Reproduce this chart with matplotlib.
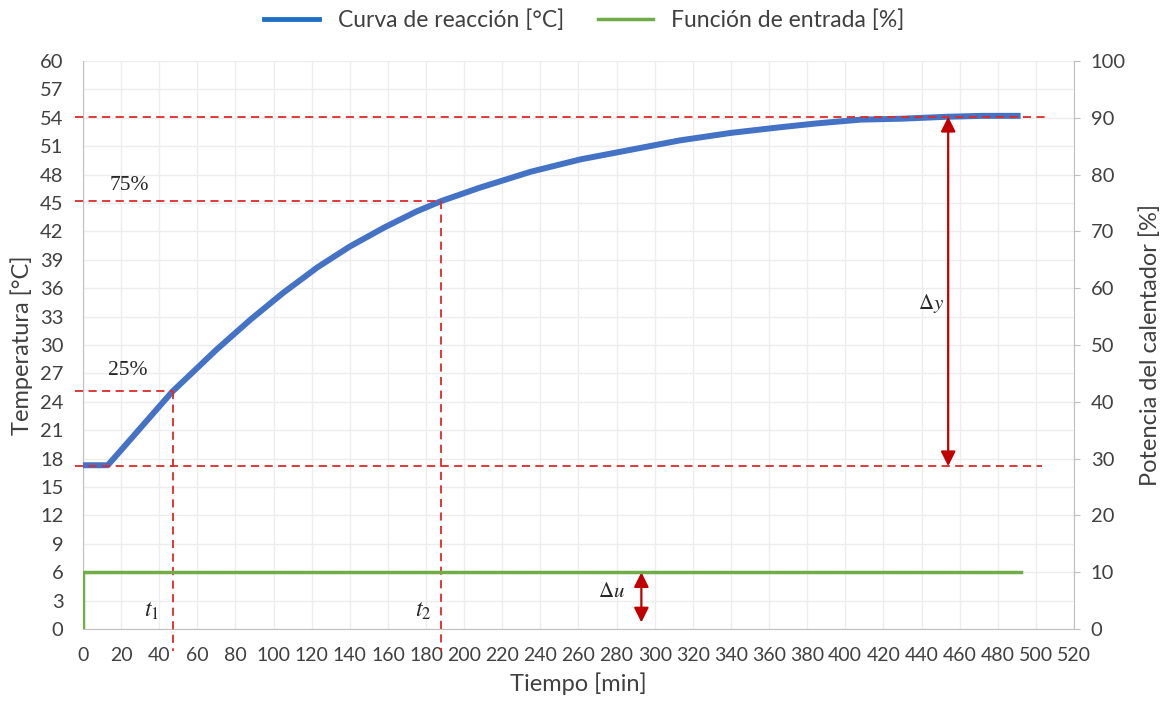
import matplotlib
matplotlib.use("Agg")
import matplotlib.pyplot as plt
from matplotlib.lines import Line2D

# ---- data ----
time_min = [0, 13, 20, 30, 40, 47, 58, 70, 88, 105, 123, 140, 158, 175, 188,
            208, 235, 261, 287, 313, 340, 366, 385, 408, 430, 453, 472, 492]
temp_c = [17.3, 17.3, 18.9, 21.2, 23.5, 25.1, 27.2, 29.5, 32.7, 35.5, 38.2,
          40.4, 42.4, 44.1, 45.2, 46.6, 48.3, 49.6, 50.6, 51.6, 52.4, 53.0,
          53.4, 53.8, 53.9, 54.1, 54.2, 54.2]

input_t = [0, 0, 492]
input_pct = [0, 10, 10]

y_final = 54.1
y_initial = 17.2
y_25 = 25.1
y_75 = 45.2
t1 = 47.2
t2 = 187.8
t_dy = 454
t_du = 293

x_ticks = list(range(0, 521, 20))
y_ticks = list(range(0, 61, 3))
y2_ticks = list(range(0, 101, 10))

# ---- style ----
plt.rcParams['font.family'] = ['Lato', 'DejaVu Sans']
plt.rcParams['mathtext.fontset'] = 'stix'

blue = '#4472C4'
green = '#70AD47'
red = '#E02828'
dark_red = '#C00000'
gray = '#BFBFBF'
txt = '#404040'

fig = plt.figure(figsize=(11.69, 7.06), dpi=100)
ax = fig.add_axes([0.071, 0.109, 0.8477, 0.8047])
ax2 = ax.twinx()

ax.set_xlim(0, 520)
ax.set_ylim(0, 60)
ax2.set_ylim(0, 100)
ax.set_xticks(x_ticks)
ax.set_yticks(y_ticks)
ax2.set_yticks(y2_ticks)

ax.grid(True, color='#EDEDED', lw=1.0)
ax.set_axisbelow(True)

for a in (ax, ax2):
    for s in a.spines.values():
        s.set_visible(False)
ax.spines['left'].set_visible(True)
ax.spines['left'].set_color(gray)
ax.spines['bottom'].set_visible(True)
ax.spines['bottom'].set_color(gray)
ax2.spines['right'].set_visible(True)
ax2.spines['right'].set_color(gray)

ax.tick_params(axis='y', length=0, labelsize=14.5, labelcolor=txt, pad=14)
ax.tick_params(axis='x', length=0, labelsize=14, labelcolor=txt, pad=13)
ax2.tick_params(axis='y', length=4, color=gray, labelsize=14.5, labelcolor=txt, pad=8)

ax.set_xlabel('Tiempo [min]', fontsize=17, color=txt, labelpad=6)
ax.set_ylabel('Temperatura [°C]', fontsize=17, color=txt, labelpad=5)
ax2.set_ylabel('Potencia del calentador [%]', fontsize=17, color=txt, labelpad=10)

# red dashed guide lines
dash = dict(color=red, lw=1.3, ls=(0, (4.5, 3)), clip_on=False, zorder=4)
ax.plot([-4, 507], [y_final, y_final], **dash)
ax.plot([-4, 503], [y_initial, y_initial], **dash)
ax.plot([-4, t2], [y_75, y_75], **dash)
ax.plot([-4, t1], [y_25, y_25], **dash)
ax.plot([t1, t1], [y_25, -2.3], **dash)
ax.plot([t2, t2], [y_75, -2.3], **dash)

# series
ax.plot(time_min, temp_c, color=blue, lw=4.3, solid_joinstyle='round',
        solid_capstyle='butt', zorder=3)
ax2.plot(input_t, input_pct, color=green, lw=2.5, zorder=3)

# arrows
arrow = dict(arrowstyle='<|-|>', color=dark_red, lw=1.6, mutation_scale=22,
             shrinkA=0, shrinkB=0)
ax.annotate('', xy=(t_dy, y_final), xytext=(t_dy, y_initial), arrowprops=arrow, zorder=5)
ax.annotate('', xy=(t_du, 6), xytext=(t_du, 0.7), arrowprops=arrow, zorder=5)

# annotation texts
serif = dict(fontfamily='Liberation Serif', color='#262626')
ax.text(14, 46.4, '75%', fontsize=15.5, **serif)
ax.text(13, 26.8, '25%', fontsize=15.5, **serif)
ax.text(438, 34.4, r'$\Delta y$', fontsize=15, va='center', **serif)
ax.text(270, 3.9, r'$\Delta u$', fontsize=15, va='center', **serif)
ax.text(32, 1.3, r'$t_1$', fontsize=17, **serif)
ax.text(174, 1.3, r'$t_2$', fontsize=17, **serif)

# legend
handles = [Line2D([], [], color='#1F6FC5', lw=3.5),
           Line2D([], [], color=green, lw=2.5)]
fig.legend(handles, ['Curva de reacción [°C]', 'Función de entrada [%]'],
           loc='center', bbox_to_anchor=(0.5, 0.972), ncol=2, frameon=False,
           fontsize=16.5, handlelength=2.4, columnspacing=1.5,
           labelcolor=txt)

fig.savefig('out.png', dpi=100)
